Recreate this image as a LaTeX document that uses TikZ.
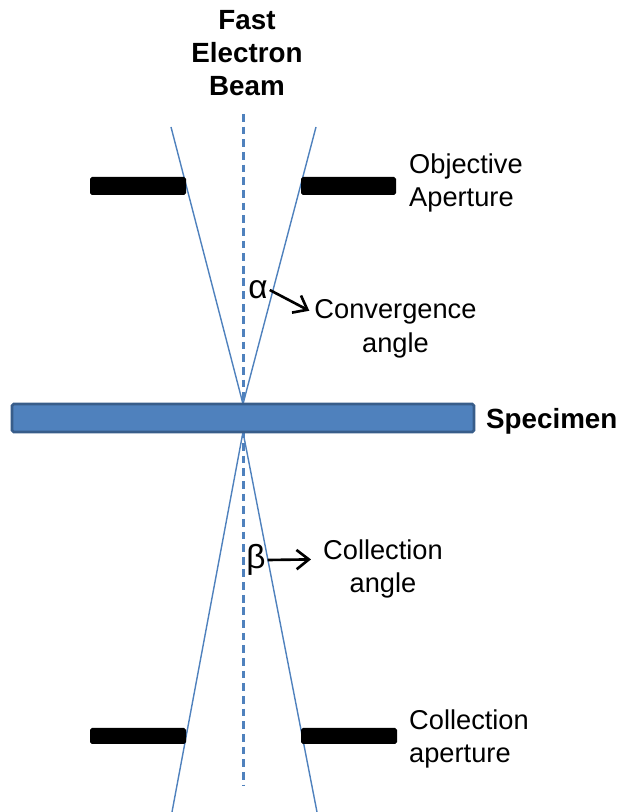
\documentclass[tikz,border=0pt]{standalone}
\usepackage{fontspec}
\setmainfont{Liberation Sans}
\usetikzlibrary{arrows.meta}
\definecolor{beamblue}{RGB}{79,129,189}
\definecolor{edgeblue}{RGB}{56,93,138}
\begin{document}
\begin{tikzpicture}[
    beam/.style={beamblue,line width=0.8pt},
    axis/.style={beamblue,line width=1.2pt,dash pattern=on 4.4pt off 2.8pt},
    aperture/.style={fill=black,rounded corners=1pt},
    lbl/.style={font=\fontsize{15.5}{19}\selectfont},
    boldlbl/.style={font=\fontsize{15.8}{19}\selectfont\bfseries},
    greek/.style={font=\fontsize{19}{20}\selectfont,inner sep=1pt},
    pointer/.style={-{Straight Barb[length=7pt,width=11pt]},line width=1.5pt}]
\useasboundingbox (0,0) rectangle (12.42,16.24);

% optic axis and beam
\draw [axis] (4.87,13.96)--(4.87,0.52);
\draw [beam] (3.42,13.70)--(4.86,8.16)--(6.32,13.70);
\draw [beam] (3.44,0)--(4.86,7.60)--(6.34,0);

% apertures
\fill [aperture] (1.80,12.34) rectangle (3.72,12.70);
\fill [aperture] (6.02,12.34) rectangle (7.92,12.70);
\fill [aperture] (1.80,1.36) rectangle (3.72,1.68);
\fill [aperture] (6.02,1.36) rectangle (7.94,1.68);

% specimen
\draw [edgeblue,fill=beamblue,line width=1.6pt,rounded corners=1pt] (0.24,7.60) rectangle (9.48,8.16);

% labels
\node (src) [boldlbl,align=center] at (4.94,15.18) {Fast\\Electron\\Beam};
\node (objap) [lbl,align=left,anchor=west] at (8.06,12.58) {Objective\\Aperture};
\node (spec) [boldlbl,anchor=west] at (9.60,7.82) {Specimen};
\node (colap) [lbl,align=left,anchor=west] at (8.06,1.46) {Collection\\aperture};

\node (conv) [lbl,align=center] at (7.91,9.66) {Convergence\\angle};
\node (coll) [lbl,align=center] at (7.66,4.86) {Collection\\angle};

\node (alpha) [greek] at (5.16,10.44) {α};
\node (beta) [greek] at (5.12,5.04) {β};

\draw [pointer] (alpha.east)--([xshift=0.02cm,yshift=-0.34cm]conv.north west);
\draw [pointer] (beta.east)--([xshift=-0.12cm,yshift=-0.52cm]coll.north west);
\end{tikzpicture}
\end{document}
